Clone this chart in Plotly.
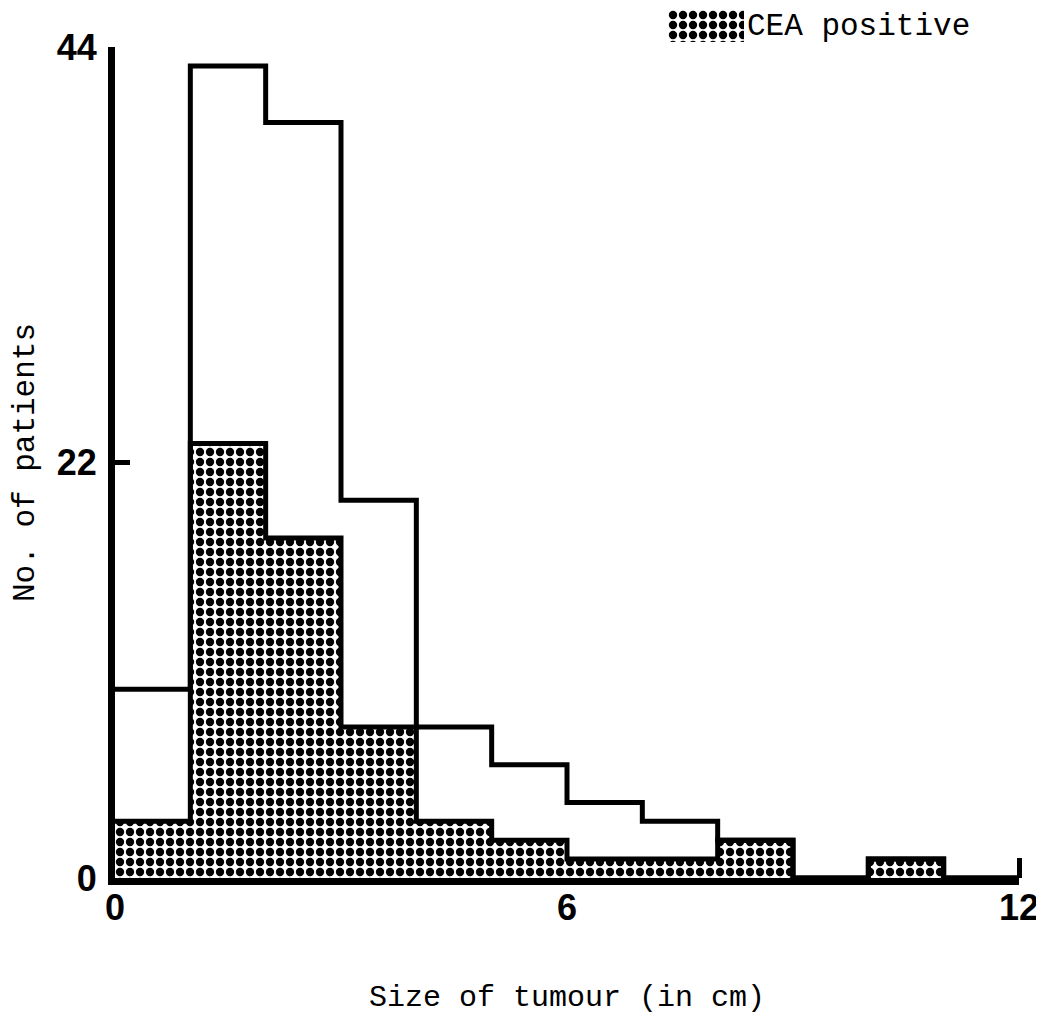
import plotly.graph_objects as go

# ---- data ----
bin_edges = [0, 1, 2, 3, 4, 5, 6, 7, 8, 9, 10, 11, 12]
total_patients = [10, 43, 40, 20, 8, 6, 4, 3, 2, 0, 1, 0]
cea_positive = [3, 23, 18, 8, 3, 2, 1, 1, 2, 0, 1, 0]
x_ticks = [0, 6, 12]
y_ticks = [0, 22, 44]
legend_label = "CEA positive"
x_title = "Size of tumour (in cm)"
y_title = "No. of patients"

bin_centers = [(a + b) / 2 for a, b in zip(bin_edges[:-1], bin_edges[1:])]

mono = "Liberation Mono, Courier New, monospace"
tickfont = dict(family="Liberation Sans, Arial, sans-serif", size=36, color="black", weight="bold")
dots = dict(shape=".", fgcolor="black", bgcolor="white", size=10, solidity=0.55, fillmode="replace")

fig = go.Figure()

# shaded (CEA positive) bars
fig.add_trace(go.Bar(
    x=bin_centers, y=cea_positive, width=1,
    marker=dict(color="white", pattern=dots, line=dict(width=0)),
    name=legend_label, showlegend=False,
))
# outline of CEA positive histogram
fig.add_trace(go.Scatter(
    x=bin_edges, y=cea_positive + [cea_positive[-1]], mode="lines",
    line=dict(shape="hv", color="black", width=5), showlegend=False,
    cliponaxis=False, hoverinfo="skip",
))
# outline of all patients histogram
fig.add_trace(go.Scatter(
    x=bin_edges, y=total_patients + [total_patients[-1]], mode="lines",
    line=dict(shape="hv", color="black", width=5), showlegend=False,
    cliponaxis=False, name="All patients",
))
# legend swatch
fig.add_trace(go.Bar(
    x=[0], y=[1], width=1, xaxis="x2", yaxis="y2",
    marker=dict(color="white", pattern=dots, line=dict(width=0)),
    showlegend=False, hoverinfo="skip",
))

# page body adds an 8px offset; positions below are page pixels
OFF = 8
W, H = 1044 - OFF, 1015 - OFF
L = 115 - OFF
R = W - (1019 - OFF)
T = 0
B = H - (878 - OFF)
pw, ph = W - L - R, H - T - B
def px_x(p):
    return (p - OFF - L) / pw
def px_y(p):
    return (H - B - (p - OFF)) / ph

fig.update_layout(
    width=W, height=H,
    margin=dict(l=L, r=R, t=T, b=B, pad=0, autoexpand=False),
    paper_bgcolor="white", plot_bgcolor="white",
    bargap=0,
    showlegend=False,
    xaxis=dict(
        range=[0, 12], domain=[0, 1], anchor="y", automargin=False,
        tickvals=x_ticks, ticktext=[str(v) for v in x_ticks],
        ticks="", showgrid=False, zeroline=False,
        showline=True, linecolor="black", linewidth=7,
        tickfont=tickfont, ticklabelstandoff=-8,
        minor=dict(tickvals=[12], ticks="inside", ticklen=20, tickwidth=5, tickcolor="black", showgrid=False),
        title=dict(text=x_title, font=dict(family=mono, size=30, color="black"), standoff=62),
    ),
    yaxis=dict(
        range=[0, 44], domain=[0, px_y(47)], anchor="x", automargin=False,
        tickvals=y_ticks, ticktext=[str(v) for v in y_ticks],
        ticks="inside", ticklen=15, tickwidth=5, tickcolor="black",
        showgrid=False, zeroline=False,
        showline=True, linecolor="black", linewidth=7,
        tickfont=tickfont, ticklabelstandoff=4,
        title=dict(text=y_title, font=dict(family=mono, size=31, color="black"), standoff=29),
    ),
    xaxis2=dict(domain=[px_x(668), px_x(744)], range=[-0.5, 0.5], anchor="y2", visible=False),
    yaxis2=dict(domain=[px_y(42), px_y(10)], range=[0, 1], anchor="x2", visible=False),
    annotations=[dict(
        text=legend_label, xref="paper", yref="paper",
        x=px_x(745), y=px_y(26), xanchor="left", yanchor="middle",
        showarrow=False, font=dict(family=mono, size=31, color="black"),
    )],
)

fig.write_html("out.html")
